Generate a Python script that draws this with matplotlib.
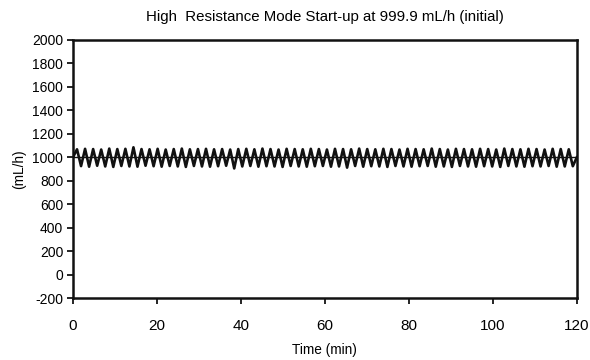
import numpy as np
import matplotlib
matplotlib.use("Agg")
import matplotlib.pyplot as plt

plt.rcParams["font.family"] = ["Liberation Sans", "DejaVu Sans"]
plt.rcParams["axes.unicode_minus"] = False

# Flow readings (mL/h): peak and trough of each oscillation cycle
peaks = [1068, 1072, 1070, 1066, 1074, 1070, 1072, 1085, 1070, 1068,
         1072, 1066, 1070, 1074, 1068, 1070, 1072, 1068, 1070, 1066,
         1070, 1072, 1068, 1074, 1070, 1066, 1072, 1070, 1068, 1072,
         1070, 1066, 1072, 1070, 1068, 1074, 1070, 1068, 1072, 1070,
         1066, 1072, 1070, 1068, 1074, 1070, 1066, 1072, 1070, 1068,
         1072, 1070, 1066, 1074, 1070, 1068, 1072, 1070, 1066, 1072,
         1070, 1068]
troughs = [925, 920, 928, 922, 918, 926, 922, 920, 928, 924,
           920, 926, 922, 918, 926, 922, 920, 924, 928, 905,
           922, 926, 920, 924, 922, 918, 926, 922, 920, 924,
           926, 920, 922, 912, 926, 920, 924, 922, 918, 926,
           922, 920, 924, 926, 920, 922, 918, 926, 922, 920,
           924, 922, 918, 926, 922, 920, 924, 922, 926, 920,
           922, 924]
start_flow = 1000
end_flow = 1000
setpoint = 999.9

flow = [start_flow]
for p, t in zip(peaks, troughs):
    flow += [p, t]
flow.append(end_flow)
time = np.linspace(0, 120, len(flow))

fig = plt.figure(figsize=(5.9, 3.6), dpi=100)
ax = fig.add_axes([0.1237, 0.172, 0.854, 0.717])

ax.axhline(setpoint, color="#111111", linewidth=1.0)
ax.plot(time, flow, color="#111111", linewidth=1.9)

ax.set_xlim(0, 120)
ax.set_ylim(-200, 2000)
ax.set_xticks(range(0, 121, 20))
ax.set_yticks(range(-200, 2001, 200))

for s in ax.spines.values():
    s.set_linewidth(1.8)
    s.set_color("#111111")

ax.tick_params(axis="x", direction="out", length=4, width=1.2, labelsize=11, pad=11)
ax.tick_params(axis="y", direction="out", length=4, width=1.2, labelsize=10, pad=3)

ax.set_title("High  Resistance Mode Start-up at 999.9 mL/h (initial)", fontsize=10.8, pad=14)
ax.set_xlabel("Time (min)", fontsize=9.8, labelpad=7)
ax.set_ylabel("(mL/h)", fontsize=9.8, labelpad=4)

fig.savefig("out.png", dpi=100)
